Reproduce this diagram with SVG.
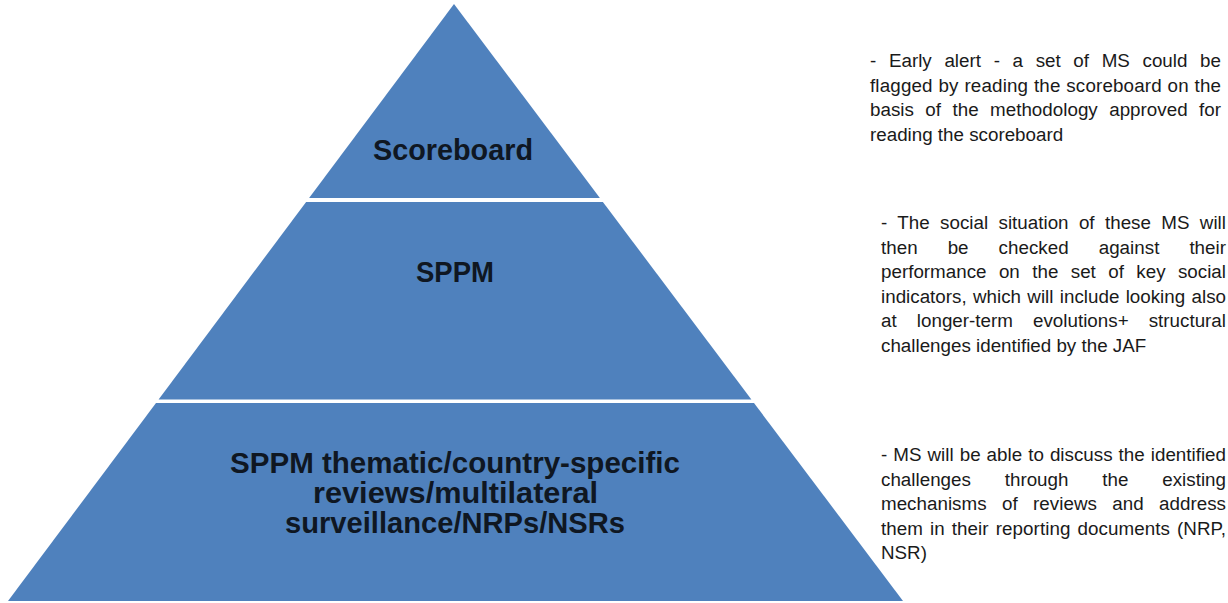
<svg xmlns="http://www.w3.org/2000/svg" width="1228" height="603" viewBox="0 0 1228 603">
  <style>
    .tier { fill: #4f81bd; }
    .tier-label { font-family: "Liberation Sans", Arial, sans-serif; font-weight: bold; font-size: 30px; fill: #0f1722; text-anchor: middle; }
    .note { font-family: "Liberation Sans", Arial, sans-serif; font-size: 18.8px; fill: #1a1a1a; }
  </style>
  <rect width="1228" height="603" fill="#ffffff"/>

  <!-- pyramid tiers -->
  <g id="tier-scoreboard">
    <polygon class="tier" points="454,4 599.9,198 309.1,198"/>
    <text class="tier-label" x="453" y="160" textLength="160" lengthAdjust="spacingAndGlyphs">Scoreboard</text>
  </g>
  <g id="tier-sppm">
    <polygon class="tier" points="306.1,202 602.9,202 751.4,399.5 158.6,399.5"/>
    <text class="tier-label" x="455" y="282" textLength="78" lengthAdjust="spacingAndGlyphs">SPPM</text>
  </g>
  <g id="tier-reviews">
    <polygon class="tier" points="156,403 754,403 903,601 8,601"/>
    <text class="tier-label" x="455" y="473" textLength="450" lengthAdjust="spacingAndGlyphs">SPPM thematic/country-specific</text>
    <text class="tier-label" x="455.5" y="503" textLength="285" lengthAdjust="spacingAndGlyphs">reviews/multilateral</text>
    <text class="tier-label" x="455" y="533" textLength="340" lengthAdjust="spacingAndGlyphs">surveillance/NRPs/NSRs</text>
  </g>

  <!-- side notes, justified -->
  <g id="note-scoreboard" class="note">
    <text x="870" y="67" word-spacing="7.4" textLength="351" lengthAdjust="spacing">- Early alert - a set of MS could be</text>
    <text x="870" y="91.5" word-spacing="0.4" textLength="351" lengthAdjust="spacing">flagged by reading the scoreboard on the</text>
    <text x="870" y="116" word-spacing="6.2" textLength="351" lengthAdjust="spacing">basis of the methodology approved for</text>
    <text x="870" y="140.5">reading the scoreboard</text>
  </g>
  <g id="note-sppm" class="note">
    <text x="881" y="229" word-spacing="5.1" textLength="345" lengthAdjust="spacing">- The social situation of these MS will</text>
    <text x="881" y="253.5" word-spacing="24.8" textLength="345" lengthAdjust="spacing">then be checked against their</text>
    <text x="881" y="278" word-spacing="7.2" textLength="345" lengthAdjust="spacing">performance on the set of key social</text>
    <text x="881" y="302.5" word-spacing="1.1" textLength="345" lengthAdjust="spacing">indicators, which will include looking also</text>
    <text x="881" y="327" word-spacing="14.9" textLength="345" lengthAdjust="spacing">at longer-term evolutions+ structural</text>
    <text x="881" y="351.5">challenges identified by the JAF</text>
  </g>
  <g id="note-reviews" class="note">
    <text x="881" y="461" word-spacing="0.8" textLength="345" lengthAdjust="spacing">- MS will be able to discuss the identified</text>
    <text x="881" y="485.5" word-spacing="28.6" textLength="345" lengthAdjust="spacing">challenges through the existing</text>
    <text x="881" y="510" word-spacing="10.2" textLength="345" lengthAdjust="spacing">mechanisms of reviews and address</text>
    <text x="881" y="534.5" word-spacing="1.7" textLength="345" lengthAdjust="spacing">them in their reporting documents (NRP,</text>
    <text x="881" y="559">NSR)</text>
  </g>
</svg>
